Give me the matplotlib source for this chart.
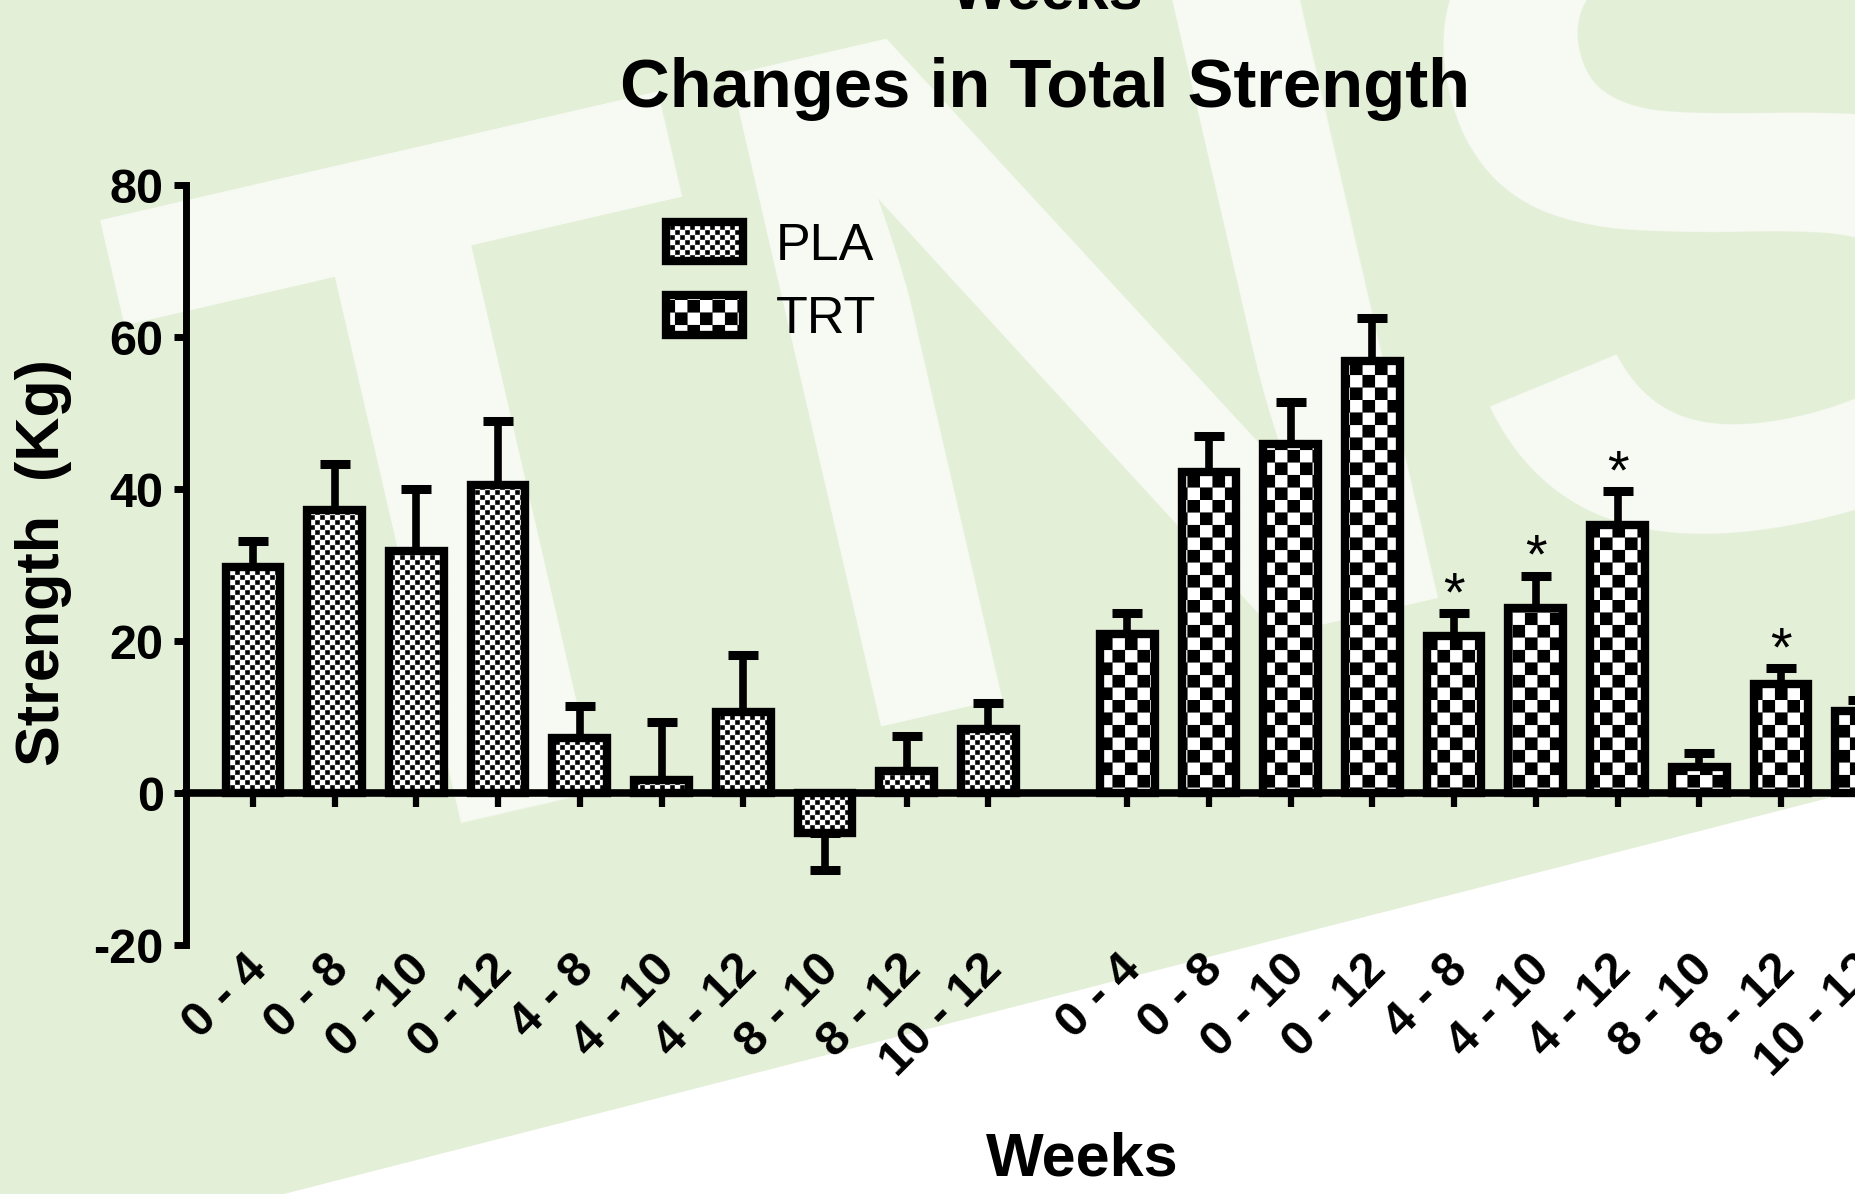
#!/usr/bin/env python3

'''
Plots changes in total strength (PLA vs TRT) over week intervals.
'''

import warnings
import numpy as np
import matplotlib
matplotlib.use('Agg')
import matplotlib.pyplot as pl
import matplotlib.hatch as mhatch
from matplotlib.path import Path
from matplotlib.patches import Polygon
from matplotlib.transforms import ScaledTranslation

weeks=['0 - 4','0 - 8','0 - 10','0 - 12','4 - 8','4 - 10','4 - 12','8 - 10','8 - 12','10 - 12']
pla=[29.7, 37.3, 31.8, 40.6, 7.3, 1.7, 10.6, -5.3, 2.9, 8.4]
pla_err=[3.5, 6.0, 8.2, 8.4, 4.2, 7.6, 7.5, 4.8, 4.6, 3.4]
trt=[20.9, 42.2, 45.9, 56.8, 20.7, 24.3, 35.3, 3.4, 14.4, 10.8]
trt_err=[2.8, 4.8, 5.5, 5.7, 3.0, 4.3, 4.4, 1.9, 2.0, 1.4]
trt_sig=['', '', '', '', '*', '*', '*', '', '*', '']
groups=['PLA', 'TRT']

bg='#e4efd8'

# Checkerboard hatch: 'c' is the fine board (slightly shrunk squares), 'C' the coarse one
class Checker(mhatch.HatchPatternBase):
    cells={'c': (20, 0.9), 'C': (8, 1.0)}

    def __init__(self, hatch, density):
        self.n, self.fill=0, 1.0
        for ch in hatch:
            if ch in self.cells:
                self.n, self.fill=self.cells[ch]
        self.num_vertices=5*(self.n*self.n//2)

    def set_vertices_and_codes(self, vertices, codes):
        n=self.n
        s=1.0/n
        d=s*self.fill
        k=0
        for i in range(n):
            for j in range(n):
                if (i+j)%2:
                    continue
                x0, y0=j*s+(s-d)/2, i*s+(s-d)/2
                vertices[k:k+5]=[(x0,y0),(x0+d,y0),(x0+d,y0+d),(x0,y0+d),(x0,y0)]
                codes[k:k+5]=[Path.MOVETO,Path.LINETO,Path.LINETO,Path.LINETO,Path.CLOSEPOLY]
                k+=5

mhatch._hatch_types.append(Checker)
warnings.filterwarnings('ignore', message='.*hatch must consist')

pl.rcParams['font.family']=['Liberation Sans', 'DejaVu Sans']
pl.rcParams['hatch.linewidth']=0.1
pl.rcParams['axes.unicode_minus']=False

def one_sided(vals, err):
    '''Error only away from zero, like the usual bar+SEM plot.'''
    vals=np.asarray(vals); err=np.asarray(err)
    return [np.where(vals<0, err, 0), np.where(vals>=0, err, 0)]

fig=pl.figure(figsize=(18.56, 11.94), dpi=100)
fig.patch.set_facecolor(bg)

# background: faded lettering and white lower corner
fig.text(0.1288, 0.2697, 'TNS', fontsize=700, fontweight='bold', color='white',
         alpha=0.7, rotation=13, rotation_mode='anchor', ha='left', va='baseline', zorder=-2)
fig.add_artist(Polygon([(0.153, 0.0), (1.0, 0.0), (1.0, 0.3375)], closed=True,
                       transform=fig.transFigure, facecolor='white', edgecolor='none', zorder=-1))

ax=fig.add_axes([0.1002, 0.2085, 0.9386, 0.6365])
ax.set_facecolor('none')

x_pla=np.arange(len(weeks))
x_trt=x_pla+len(weeks)+0.7
wbar=0.67
bar_opts={'width': wbar, 'color': 'white', 'edgecolor': 'black', 'linewidth': 6, 'zorder': 2}
err_opts={'fmt': 'none', 'ecolor': 'black', 'elinewidth': 5.5, 'capsize': 11, 'capthick': 6.5, 'zorder': 1}

b1=ax.bar(x_pla, pla, hatch='c', label=groups[0], **bar_opts)
b2=ax.bar(x_trt, trt, hatch='C', label=groups[1], **bar_opts)
ax.errorbar(x_pla, pla, yerr=one_sided(pla, pla_err), **err_opts)
ax.errorbar(x_trt, trt, yerr=one_sided(trt, trt_err), **err_opts)

for xx, v, e, s in zip(x_trt, trt, trt_err, trt_sig):
    if s:
        ax.annotate(s, xy=(xx, v+e), xytext=(0, 2), textcoords='offset points',
                    ha='center', va='baseline', fontsize=40)

ax.set_xlim(-0.82, 20.5)
ax.set_ylim(-20, 80)

for side in ['top', 'right']:
    ax.spines[side].set_visible(False)
ax.spines['bottom'].set_position(('data', 0))
ax.spines['bottom'].set_linewidth(5.5)
ax.spines['left'].set_linewidth(5)

ax.tick_params(axis='x', direction='out', length=10, width=4.5, pad=111.7, labelsize=35)
ax.tick_params(axis='y', direction='out', length=9, width=5, pad=7, labelsize=35)

ax.set_yticks(np.arange(-20, 81, 20))
ax.set_xticks(np.concatenate([x_pla, x_trt]))
ax.set_xticklabels(weeks+weeks)
fig.canvas.draw()

shift=ScaledTranslation(7/100., 0, fig.dpi_scale_trans)
for lab in ax.get_xticklabels():
    lab.set(rotation=45, ha='right', va='center', rotation_mode='anchor', fontweight='bold')
    lab.set_transform(lab.get_transform()+shift)
for lab in ax.get_yticklabels():
    lab.set_fontweight('bold')

ax.legend(handles=[b1, b2], loc='center left', bbox_to_anchor=(0.3586, 0.763),
          bbox_transform=fig.transFigure, frameon=False, fontsize=37.5,
          handlelength=1.48, handleheight=0.79, handletextpad=0.63,
          labelspacing=0.47, borderpad=0, borderaxespad=0)

fig.text(0.564, 0.9925, 'Weeks', ha='center', va='baseline', fontsize=44, fontweight='bold')
fig.text(0.563, 0.9104, 'Changes in Total Strength', ha='center', va='baseline',
         fontsize=49.5, fontweight='bold')
fig.text(0.583, 0.0151, 'Weeks', ha='center', va='baseline', fontsize=44, fontweight='bold')
fig.text(0.0237, 0.529, 'Strength  (Kg)', rotation=90, ha='center', va='center',
         fontsize=44, fontweight='bold')

pl.savefig('out.png', dpi=100, facecolor=fig.get_facecolor())
